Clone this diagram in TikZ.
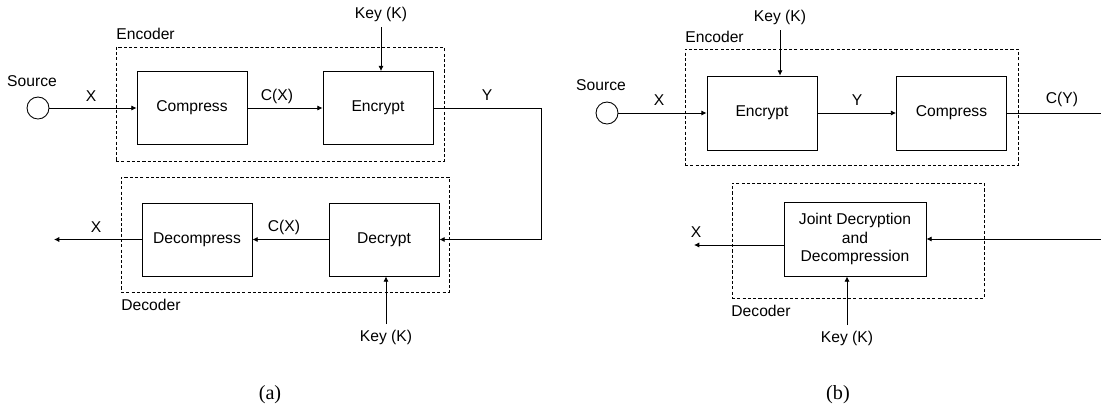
\documentclass[tikz,border=0pt]{standalone}
\usepackage{fontspec}
\setmainfont{Liberation Sans}
\newfontfamily\capfont{Liberation Serif}
\usetikzlibrary{arrows.meta}
\tikzset{
	blk/.style={draw, minimum width=2.2cm, minimum height=1.46cm, inner sep=1pt, align=center, font=\fontsize{8.9}{10.5}\selectfont},
	grpbox/.style={draw, line width=0.45pt, dash pattern=on 1.8pt off 1.2pt, inner sep=0pt},
	lbl/.style={inner sep=0pt, font=\fontsize{8.9}{10.5}\selectfont},
	keylbl/.style={lbl, inner ysep=3pt},
	srcnode/.style={draw, circle, minimum size=0.44cm, inner sep=0pt},
	subcap/.style={inner sep=0pt, font=\capfont\fontsize{11.5}{13}\selectfont}
}
\begin{document}
\begin{tikzpicture}[x=0.02cm, y=-0.02cm, line width=0.5pt, >={Latex[length=3pt,width=3pt]}]
\useasboundingbox (0,0) rectangle (1101,406);
% (a) compress then encrypt
\node[grpbox, minimum width=6.56cm, minimum height=2.28cm] (encfrA) at (280,104) {};
\node[lbl, anchor=base west] (encnameA) at (116,39) {Encoder};
\node[srcnode] (srcA) at (38,108) {};
\node[lbl] (srcnameA) at (32,81) {Source};
\node[blk] (cmpA) at (192,108) {Compress};
\node[blk] (encA) at (378,108) {Encrypt};
\node[keylbl] (keyA1) at (381,14) {Key (K)};
\node[lbl] (xinA) at (91,96) {X};
\node[lbl] (cxA) at (277,96) {C(X)};
\node[lbl] (yA) at (487,95) {Y};
\path[->] (srcA) edge (cmpA);
\path[->] (cmpA) edge (encA);
\path[->] (keyA1) edge (keyA1 |- encA.north);
\node[grpbox, minimum width=6.56cm, minimum height=2.3cm] (decfrA) at (285,234.5) {};
\node[lbl, anchor=base west] (decnameA) at (121,310) {Decoder};
\node[blk] (dcmA) at (197,239.5) {Decompress};
\node[blk] (decA) at (384,239.5) {Decrypt};
\node[keylbl] (keyA2) at (386,337) {Key (K)};
\node[lbl] (xoutA) at (96,227) {X};
\node[lbl] (cxA2) at (284,227) {C(X)};
\coordinate (bendA) at (541,239.5);
\coordinate (outA) at (54,239.5);
\draw[->] (encA) -| (bendA) -- (decA);
\path[->] (decA) edge (dcmA);
\path[->] (dcmA) edge (outA);
\path[->] (keyA2) edge (keyA2 |- decA.south);
\node[subcap] (capA) at (270,395) {(a)};
% (b) encrypt then compress
\node[grpbox, minimum width=6.66cm, minimum height=2.32cm] (encfrB) at (851.5,107) {};
\node[lbl, anchor=base west] (encnameB) at (685,42) {Encoder};
\node[srcnode] (srcB) at (607,113) {};
\node[lbl] (srcnameB) at (601,85) {Source};
\node[blk, minimum height=1.48cm] (encB) at (762,113) {Encrypt};
\node[blk, minimum height=1.48cm] (cmpB) at (951.5,113) {Compress};
\node[keylbl] (keyB1) at (780,17) {Key (K)};
\node[lbl] (xinB) at (659,100) {X};
\node[lbl] (yB) at (857,100) {Y};
\node[lbl] (cyB) at (1062,99) {C(Y)};
\coordinate (outB) at (1101,113);
\path[->] (srcB) edge (encB);
\path[->] (encB) edge (cmpB);
\path[->] (keyB1) edge (keyB1 |- encB.north);
\path (cmpB) edge (outB);
\node[grpbox, minimum width=5.04cm, minimum height=2.3cm] (decfrB) at (858,240.5) {};
\node[lbl, anchor=base west] (decnameB) at (731,316) {Decoder};
\node[blk, minimum width=2.84cm, minimum height=1.48cm] (jointB) at (855,239) {Joint Decryption\\and\\Decompression};
\node[keylbl] (keyB2) at (847,338) {Key (K)};
\node[lbl] (xoutB) at (696,232) {X};
\coordinate (inB) at (1101,239);
\coordinate (xendB) at (694,245);
\path[->] (inB) edge (jointB);
\path[->] (jointB.west |- xendB) edge (xendB);
\path[->] (keyB2) edge (keyB2 |- jointB.south);
\node[subcap] (capB) at (838,395) {(b)};
\end{tikzpicture}
\end{document}
